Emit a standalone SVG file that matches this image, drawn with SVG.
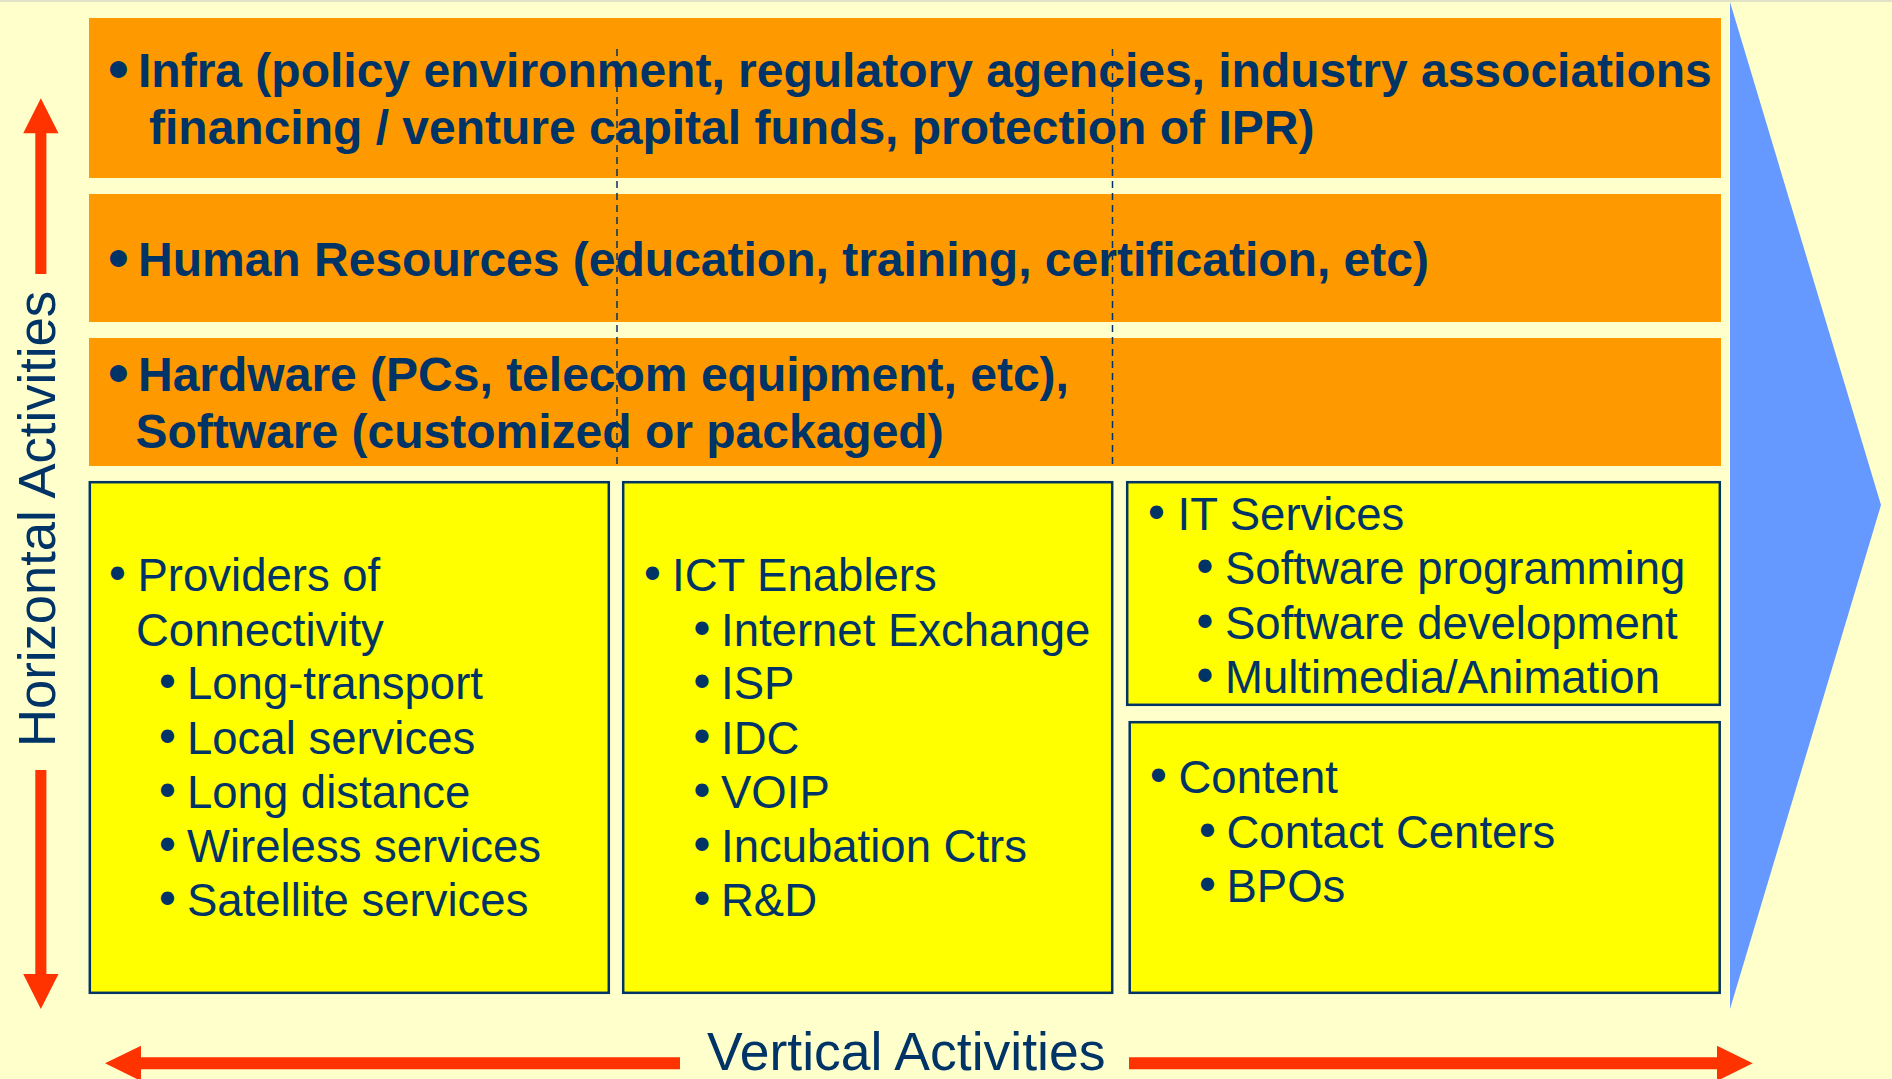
<svg xmlns="http://www.w3.org/2000/svg" width="1892" height="1079" viewBox="0 0 1892 1079">
<style>
.band{fill:#FF9900}
.box{fill:#FFFF00;stroke:#003366;stroke-width:2.5}
.bt{font-family:"Liberation Sans",Arial,sans-serif;font-weight:bold;font-size:48px;fill:#003366}
.t{font-family:"Liberation Sans",Arial,sans-serif;font-size:45.5px;fill:#003366}
.b{font-family:"DejaVu Sans",sans-serif}
.ax{font-family:"Liberation Sans",Arial,sans-serif;fill:#003366}
.arr{fill:#FF3300}
.dash{stroke:#003366;stroke-width:1.5;stroke-dasharray:7,5;fill:none}
</style>
<rect x="0" y="0" width="1892" height="1079" fill="#FFFFCC"/>
<rect x="0" y="0" width="1892" height="2" fill="#E2E2C6"/>
<polygon id="value-arrow" points="1730,2 1881,505 1730,1009" fill="#6699FF"/>

<g id="infra">
<rect class="band" x="89" y="18" width="1632" height="160"/>
<text class="bt" y="87"><tspan class="b" x="103">•</tspan><tspan x="138">Infra (policy environment, regulatory agencies, industry associations</tspan></text>
<text class="bt" x="149" y="144">financing / venture capital funds, protection of IPR)</text>
</g>
<g id="human-resources">
<rect class="band" x="89" y="194" width="1632" height="128"/>
<text class="bt" y="276"><tspan class="b" x="103">•</tspan><tspan x="138">Human Resources (education, training, certification, etc)</tspan></text>
</g>
<g id="hardware-software">
<rect class="band" x="89" y="338" width="1632" height="128"/>
<text class="bt" y="390.5"><tspan class="b" x="103">•</tspan><tspan x="138">Hardware (PCs, telecom equipment, etc),</tspan></text>
<text class="bt" x="135.5" y="448">Software (customized or packaged)</text>
</g>

<g id="connectivity">
<rect class="box" x="89.8" y="482.2" width="519" height="510.6"/>
<text class="t" y="591"><tspan class="b" x="104">•</tspan><tspan x="137.5">Providers of</tspan></text>
<text class="t" x="136" y="645.5">Connectivity</text>
<text class="t" y="699"><tspan class="b" x="154">•</tspan><tspan x="187">Long-transport</tspan></text>
<text class="t" y="753.5"><tspan class="b" x="154">•</tspan><tspan x="187">Local services</tspan></text>
<text class="t" y="808"><tspan class="b" x="154">•</tspan><tspan x="187">Long distance</tspan></text>
<text class="t" y="862"><tspan class="b" x="154">•</tspan><tspan x="187">Wireless services</tspan></text>
<text class="t" y="916"><tspan class="b" x="154">•</tspan><tspan x="187">Satellite services</tspan></text>
</g>

<g id="ict-enablers">
<rect class="box" x="623.2" y="482.2" width="489" height="510.6"/>
<text class="t" y="591"><tspan class="b" x="639">•</tspan><tspan x="672">ICT Enablers</tspan></text>
<text class="t" y="645.5"><tspan class="b" x="688.5">•</tspan><tspan x="721">Internet Exchange</tspan></text>
<text class="t" y="699"><tspan class="b" x="688.5">•</tspan><tspan x="721">ISP</tspan></text>
<text class="t" y="753.5"><tspan class="b" x="688.5">•</tspan><tspan x="721">IDC</tspan></text>
<text class="t" y="808"><tspan class="b" x="688.5">•</tspan><tspan x="721">VOIP</tspan></text>
<text class="t" y="862"><tspan class="b" x="688.5">•</tspan><tspan x="721">Incubation Ctrs</tspan></text>
<text class="t" y="916"><tspan class="b" x="688.5">•</tspan><tspan x="721">R&amp;D</tspan></text>
</g>

<g id="it-services">
<rect class="box" x="1127.2" y="482.2" width="592.6" height="222.6"/>
<text class="t" y="530"><tspan class="b" x="1143">•</tspan><tspan x="1177.5">IT Services</tspan></text>
<text class="t" y="584"><tspan class="b" x="1191.5">•</tspan><tspan x="1225">Software programming</tspan></text>
<text class="t" y="639"><tspan class="b" x="1191.5">•</tspan><tspan x="1225">Software development</tspan></text>
<text class="t" y="693"><tspan class="b" x="1191.5">•</tspan><tspan x="1225">Multimedia/Animation</tspan></text>
</g>

<g id="content">
<rect class="box" x="1129.7" y="722.2" width="590" height="270.6"/>
<text class="t" y="793"><tspan class="b" x="1145">•</tspan><tspan x="1178.5">Content</tspan></text>
<text class="t" y="847.5"><tspan class="b" x="1194">•</tspan><tspan x="1226.5">Contact Centers</tspan></text>
<text class="t" y="902"><tspan class="b" x="1194">•</tspan><tspan x="1226.5">BPOs</tspan></text>
</g>

<g id="connectors">
<line class="dash" x1="617" y1="49" x2="617" y2="465"/>
<line class="dash" x1="1112.5" y1="49" x2="1112.5" y2="465"/>
<path class="arr" d="M35.3,274 V133.3 H23.2 L40.85,98.3 L58.5,133.3 H46.4 V274 Z"/>
<path class="arr" d="M35.3,770 V974 H23.2 L40.85,1009 L58.5,974 H46.4 V770 Z"/>
<path class="arr" d="M680,1057.3 H141 V1045.7 L105,1063.3 L141,1081 V1069.3 H680 Z"/>
<path class="arr" d="M1129,1057.3 H1717 V1045.7 L1752.7,1063.3 L1717,1081 V1069.3 H1129 Z"/>
</g>

<g id="axis-labels">
<text class="ax" transform="translate(54.5,747) rotate(-90)" style="font-size:52.6px">Horizontal Activities</text>
<text class="ax" x="707" y="1070" style="font-size:53.5px">Vertical Activities</text>
</g>
</svg>
